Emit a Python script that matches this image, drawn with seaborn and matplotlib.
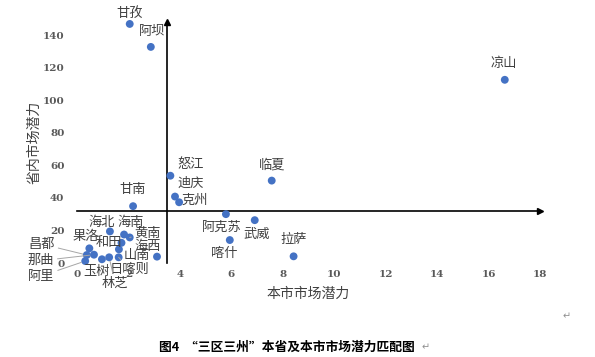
import numpy as np
import pandas as pd
import matplotlib
matplotlib.use('Agg')
import matplotlib.pyplot as plt
import seaborn as sns

#Data - regions with local (x) and provincial (y) market potential:
regions = ['甘孜', '阿坝', '凉山', '怒江', '临夏', '迪庆', '克州', '阿克苏', '武威',
           '喀什', '拉萨', '甘南', '海北', '海南', '黄南', '和田', '果洛', '海西',
           '山南', '昌都', '那曲', '阿里', '玉树', '日喀则', '林芝']
local_potential = [2.05, 2.87, 16.63, 3.63, 7.57, 3.81, 3.97, 5.79, 6.91,
                   5.94, 8.42, 2.18, 1.28, 1.83, 2.05, 1.73, 0.48, 3.11,
                   1.63, 0.38, 0.66, 0.32, 0.97, 1.62, 1.25]
province_potential = [146.8, 132.7, 112.5, 53.6, 50.6, 40.8, 37.3, 30.0, 26.3,
                      14.1, 4.1, 34.9, 19.4, 17.5, 15.7, 12.4, 9.0, 3.9,
                      8.4, 4.9, 5.1, 1.2, 2.3, 3.5, 3.5]
x_ticks = list(range(0, 19, 2))
y_ticks = list(range(0, 141, 20))

#Where the quadrant axes cross:
cross_x, cross_y = 3.5, 32

#Label offsets in pixels (dx, dy) and which labels get a leader line:
label_offsets = [(0, 10), (1, 15), (-1, 16), (20, 11), (0, 16), (16, 13), (16, 2),
                 (-4, -13), (2, -14), (-6, -13), (0, 17), (0, 17), (-8, 9), (7, 12),
                 (18, 4), (-13, 0), (-4, 12), (-9, 10), (18, -6), (-45, 11),
                 (-53, -6), (-44, -15), (-5, -12), (11, -12), (6, -26)]
leaders = {'黄南', '昌都', '那曲', '阿里', '日喀则', '林芝'}

df = pd.DataFrame({'region': regions, 'x': local_potential, 'y': province_potential})

sns.set_style('white')
plt.rcParams['font.family'] = ['Noto Sans CJK SC', 'DejaVu Sans']

fig = plt.figure(figsize=(5.95, 3.57), dpi=100)
ax = fig.add_axes([0.1294, 0.2633, 0.7782, 0.6751])

sns.scatterplot(data=df, x='x', y='y', color='#4472C4', s=32, edgecolor='none',
                ax=ax, clip_on=False, zorder=3)

ax.set_xlim(0, 18)
ax.set_ylim(0, 148)

#Quadrant spines crossing in the middle:
for side in ['top', 'right']:
    ax.spines[side].set_visible(False)
ax.spines['left'].set_position(('data', cross_x))
ax.spines['bottom'].set_position(('data', cross_y))
for side in ['left', 'bottom']:
    ax.spines[side].set_color('black')
    ax.spines[side].set_linewidth(1.2)
ax.set_xticks(x_ticks)
ax.set_yticks(y_ticks)
ax.tick_params(axis='both', direction='in', length=4, width=0.8, color='black',
               labelleft=False, labelbottom=False)
ax.set_xlabel('')
ax.set_ylabel('')

#Arrow heads:
ax.plot(1, cross_y, '>k', ms=5, transform=ax.get_yaxis_transform(), clip_on=False)
ax.plot(cross_x, 1, '^k', ms=5, transform=ax.get_xaxis_transform(), clip_on=False)

#Tick labels at the low side via secondary axes:
tick_font = dict(family='DejaVu Serif', weight='bold', size=7.5, color='#595959')
sec_y = ax.secondary_yaxis('left')
sec_y.set_yticks(y_ticks)
sec_y.tick_params(length=0, pad=9)
sec_y.spines['left'].set_visible(False)
plt.setp(sec_y.get_yticklabels(), **tick_font)
sec_y.set_ylabel('省内市场潜力', fontsize=10, color='#404040', labelpad=1)

sec_x = ax.secondary_xaxis('bottom')
sec_x.set_xticks(x_ticks)
sec_x.tick_params(length=0, pad=5)
sec_x.spines['bottom'].set_visible(False)
plt.setp(sec_x.get_xticklabels(), **tick_font)
sec_x.set_xlabel('本市市场潜力', fontsize=10, color='#404040', labelpad=6)

#Data labels:
for (name, xv, yv), (dx, dy) in zip(df[['region', 'x', 'y']].values, label_offsets):
    arrow = dict(arrowstyle='-', color='#A6A6A6', lw=0.7, shrinkA=0, shrinkB=3) if name in leaders else None
    ax.annotate(name, (xv, yv), xytext=(dx, dy), textcoords='offset pixels',
                ha='center', va='center', fontsize=9.5, color='#404040',
                arrowprops=arrow, annotation_clip=False)

#Caption and paragraph marks:
fig.text(0.482, 0.028, '图4  “三区三州”本省及本市市场潜力匹配图', ha='center', va='center',
         fontsize=9.2, weight='bold', color='black')
fig.text(0.953, 0.115, '↵', ha='center', va='center', fontsize=7, color='#909090',
         family='DejaVu Sans')
fig.text(0.716, 0.028, '↵', ha='center', va='center', fontsize=7, color='#909090',
         family='DejaVu Sans')

fig.savefig('out.png', dpi=100)
